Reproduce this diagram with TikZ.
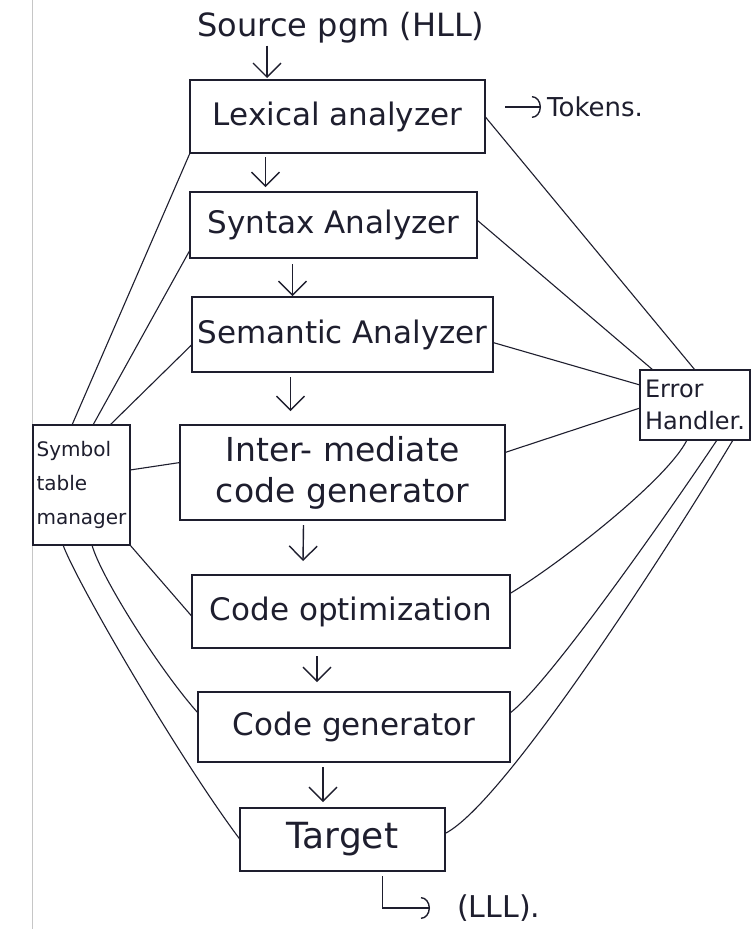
\documentclass[tikz,border=0pt]{standalone}
\usepackage{fontspec}
\setmainfont{DejaVu Sans}
\usetikzlibrary{arrows.meta,calc}
\definecolor{ink}{HTML}{1E1E2E}
\begin{document}
\begin{tikzpicture}[x=1pt,y=-1pt,
  box/.style={draw=ink, line width=1.4pt, inner sep=0pt, outer sep=0pt, text=ink, align=center},
  flow/.style={draw=ink, line width=1.4pt, -{Straight Barb[length=14pt,width=28pt,line width=1.4pt]}},
  tip/.style={draw=ink, line width=1.4pt, -{Arc Barb[length=9pt,width=22pt,line width=1.4pt]}},
  link/.style={draw=ink, line width=1.1pt},
  lbl/.style={text=ink, inner sep=2pt},
  bigtxt/.style={font=\fontsize{31}{38}\selectfont},
]
\useasboundingbox (0,0) rectangle (753,929);
\fill[white] (0,0) rectangle (753,929);
\draw[gray!45, line width=0.8pt] (32,0) -- (32,929);

% main stages
\node[box, bigtxt, minimum width=295pt, minimum height=73pt] (lex) at (337.5,116.5) {Lexical analyzer};
\node[box, bigtxt, minimum width=287pt, minimum height=66pt] (syn) at (333.5,225) {Syntax Analyzer};
\node[box, bigtxt, minimum width=301pt, minimum height=75pt] (sem) at (342.5,334.5) {Semantic Analyzer};
\node[box, font=\fontsize{33}{41}\selectfont, minimum width=325pt, minimum height=95pt] (inter) at (342.5,472.5) {Inter- mediate\\code generator};
\node[box, bigtxt, minimum width=318pt, minimum height=73pt] (opt) at (351,611.5) {Code optimization};
\node[box, bigtxt, minimum width=312pt, minimum height=70pt] (gen) at (354,727) {Code generator};
\node[box, font=\fontsize{36}{40}\selectfont, minimum width=205pt, minimum height=63pt] (tgt) at (342.5,839.5) {Target};

% side boxes
\node[box, align=left, font=\fontsize{20}{34}\selectfont, minimum width=97pt, minimum height=120pt] (sym) at (81.5,485) {Symbol\\table\\manager};
\node[box, align=left, font=\fontsize{24}{32}\selectfont, minimum width=110pt, minimum height=70pt] (err) at (695,405) {Error\\Handler.};

% source, tokens, output
\node[lbl, font=\fontsize{32}{38}\selectfont] (src) at (341,28) {Source pgm (HLL)};
\node[lbl, anchor=west, font=\fontsize{26}{30}\selectfont] (tok) at (545,107) {Tokens.};
\coordinate (tokstart) at (505,107);
\node[lbl, anchor=west, font=\fontsize{30}{36}\selectfont] (lll) at (455,908) {(LLL).};

% flow arrows
\draw[flow] ([xshift=-74pt]src.south) -- ([xshift=-70.5pt,yshift=2pt]lex.north);
\draw[flow] ([xshift=-72pt,yshift=-4pt]lex.south) -- ([xshift=-68pt,yshift=5pt]syn.north);
\draw[flow] ([xshift=-41pt,yshift=-6pt]syn.south) -- ([xshift=-50pt,yshift=1pt]sem.north);
\draw[flow] ([xshift=-52pt,yshift=-5pt]sem.south) -- ([xshift=-52pt,yshift=14pt]inter.north);
\draw[flow] ([xshift=-39pt,yshift=-5pt]inter.south) -- ([xshift=-48pt,yshift=14pt]opt.north);
\draw[flow] ([xshift=-34pt,yshift=-8pt]opt.south) -- ([xshift=-37pt,yshift=10pt]gen.north);
\draw[flow] ([xshift=-31pt,yshift=-5pt]gen.south) -- ([xshift=-19.5pt,yshift=6pt]tgt.north);

\draw[tip] (tokstart) -- ([xshift=-4pt]tok.west);
\draw[tip] ([xshift=40pt,yshift=-5pt]tgt.south) |- ([xshift=-25pt]lll.west);

% symbol table links
\draw[link] ([xshift=-9.5pt]sym.north) -- (lex.south west);
\draw[link] ([xshift=11.5pt]sym.north) -- ([yshift=8pt]syn.south west);
\draw[link] ([xshift=28.5pt]sym.north) -- ([yshift=-10pt]sem.west);
\draw[link] ([yshift=15pt]sym.east) -- ([yshift=10pt]inter.west);
\draw[link] (sym.south east) -- ([yshift=-5pt]opt.west);
\draw[link] ([xshift=10.5pt]sym.south) .. controls +(8,30) and +(-40,-45) .. ([yshift=14pt]gen.west);
\draw[link] ([xshift=-18.5pt]sym.south) .. controls +(15,40) and +(-60,-80) .. (tgt.west);

% error handler links
\draw[link] (lex.east) -- (err.north);
\draw[link] ([yshift=5pt]syn.east) -- ([xshift=13pt]err.north west);
\draw[link] ([yshift=-8pt]sem.east) -- ([yshift=20pt]err.west);
\draw[link] ([yshift=20pt]inter.east) -- ([yshift=-3pt]err.west);
\draw[link] ([yshift=18pt]opt.east) .. controls +(50,-30) and +(-20,40) .. ([xshift=-8pt]err.south);
\draw[link] ([yshift=14pt]gen.east) .. controls +(40,-30) and +(-40,60) .. ([xshift=22pt]err.south);
\draw[link] ([yshift=6pt]tgt.east) .. controls +(60,-30) and +(-60,100) .. ([xshift=38pt]err.south);
\end{tikzpicture}
\end{document}
